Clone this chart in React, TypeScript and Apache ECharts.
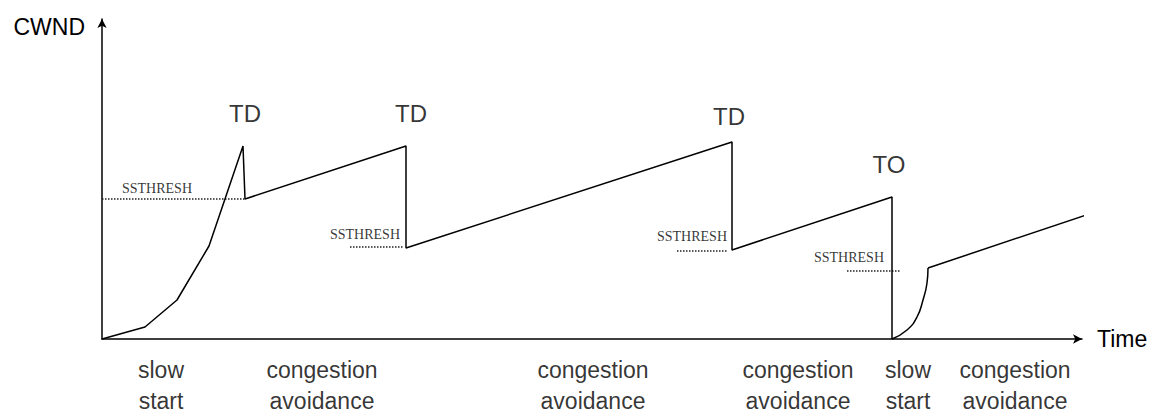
import React, { useEffect, useRef } from "react";
import * as echarts from "echarts";

// Congestion window trace (time units, cwnd units)
const cwndTrace: [number, number][] = [
  [0, 0], [4.3, 1.2], [7.5, 3.9], [10.7, 9.3], [14.1, 19.3],
  [14.3, 14.0], [30.4, 19.3], [30.4, 9.1], [63.0, 19.7], [63.0, 8.9],
  [79.0, 14.2], [79.0, 0],
];
const slowStartCurve: [number, number][] = [
  [79.0, 0], [80.5, 0.9], [81.5, 2.2], [82.1, 3.9], [82.5, 5.6], [82.6, 7.1],
];
const finalAvoidance: [number, number][] = [[82.6, 7.1], [98.4, 12.4]];

// SSTHRESH markers
const ssthreshLevels = [14.0, 9.2, 8.8, 6.8];
const ssthreshStart = [0, 24.8, 57.5, 74.5];
const ssthreshEnd = [14.3, 30.1, 62.6, 79.8];
const ssthreshLabelTime = [5.5, 26.3, 59.0, 74.7];
const ssthreshLabelCwnd = [15.1, 10.5, 10.3, 8.2];

// Loss events
const eventNames = ["TD", "TD", "TD", "TO"];
const eventLabelTime = [14.3, 30.9, 62.7, 78.7];
const eventLabelCwnd = [22.6, 22.6, 22.3, 17.5];

// Phases along the time axis
const phaseNames = [
  "slow\nstart",
  "congestion\navoidance",
  "congestion\navoidance",
  "congestion\navoidance",
  "slow\nstart",
  "congestion\navoidance",
];
const phaseCenters = [5.9, 22.0, 49.1, 69.6, 80.6, 91.3];

const SANS = "'Liberation Sans', Arial, sans-serif";
const SERIF = "'Liberation Serif', 'Times New Roman', serif";

export default function App() {
  const ref = useRef<HTMLDivElement>(null);

  useEffect(() => {
    document.body.style.margin = "0";
    if (!ref.current) return;
    const chart = echarts.init(ref.current, undefined, { renderer: "svg" });

    const lineStyle = { color: "#000", width: 1.5 };
    const axisCommon = {
      type: "value" as const,
      axisTick: { show: false },
      axisLabel: { show: false },
      splitLine: { show: false },
      axisLine: {
        show: true,
        symbol: ["none", "arrow"],
        symbolSize: [7, 9],
        lineStyle: { color: "#000", width: 1.5 },
      },
    };
    const plainText = { color: "#000", textBorderWidth: 0, textShadowBlur: 0 };

    const ssthreshSeries = ssthreshLevels.map((lvl, i) => ({
      type: "line",
      silent: true,
      showSymbol: false,
      symbol: "none",
      clip: false,
      data: [
        [ssthreshStart[i], lvl],
        [ssthreshEnd[i], lvl],
      ],
      lineStyle: { color: "#222", width: 1.5, type: "dotted" },
      z: 1,
    }));

    chart.setOption({
      animation: false,
      backgroundColor: "#fff",
      grid: { left: 102, top: 19, width: 980, height: 320 },
      xAxis: {
        ...axisCommon,
        min: 0,
        max: 98,
        name: "Time",
        nameLocation: "end",
        nameGap: 15,
        nameTextStyle: { fontSize: 23, color: "#000", fontFamily: SANS },
      },
      yAxis: {
        ...axisCommon,
        min: 0,
        max: 32,
        name: "CWND",
        nameLocation: "end",
        nameGap: -8,
        nameTextStyle: {
          fontSize: 23,
          color: "#000",
          fontFamily: SANS,
          align: "right",
          verticalAlign: "middle",
          padding: [0, 17, 0, 0],
        },
      },
      series: [
        {
          type: "line",
          silent: true,
          symbol: "none",
          clip: false,
          data: cwndTrace,
          lineStyle,
          z: 3,
        },
        {
          type: "line",
          silent: true,
          symbol: "none",
          smooth: true,
          clip: false,
          data: slowStartCurve,
          lineStyle,
          z: 3,
        },
        {
          type: "line",
          silent: true,
          symbol: "none",
          clip: false,
          data: finalAvoidance,
          lineStyle,
          z: 3,
        },
        ...ssthreshSeries,
        {
          type: "scatter",
          silent: true,
          symbolSize: 0,
          clip: false,
          data: ssthreshLabelTime.map((t, i) => [t, ssthreshLabelCwnd[i]]),
          label: {
            show: true,
            position: "inside",
            formatter: "SSTHRESH",
            fontFamily: SERIF,
            fontSize: 14,
            ...plainText,
          },
        },
        {
          type: "scatter",
          silent: true,
          symbolSize: 0,
          clip: false,
          data: eventLabelTime.map((t, i) => ({
            value: [t, eventLabelCwnd[i]],
            name: eventNames[i],
          })),
          label: {
            show: true,
            position: "inside",
            formatter: (p: any) => p.name,
            fontFamily: SANS,
            fontSize: 24,
            ...plainText,
          },
        },
        {
          type: "scatter",
          silent: true,
          symbolSize: 0,
          clip: false,
          data: phaseCenters.map((c, i) => ({ value: [c, 0], name: phaseNames[i] })),
          label: {
            show: true,
            position: "bottom",
            distance: 15,
            formatter: (p: any) => p.name,
            fontFamily: SANS,
            fontSize: 23,
            lineHeight: 31,
            align: "center",
            ...plainText,
          },
        },
      ],
    });

    return () => chart.dispose();
  }, []);

  return <div ref={ref} style={{ width: 1156, height: 413 }} />;
}
